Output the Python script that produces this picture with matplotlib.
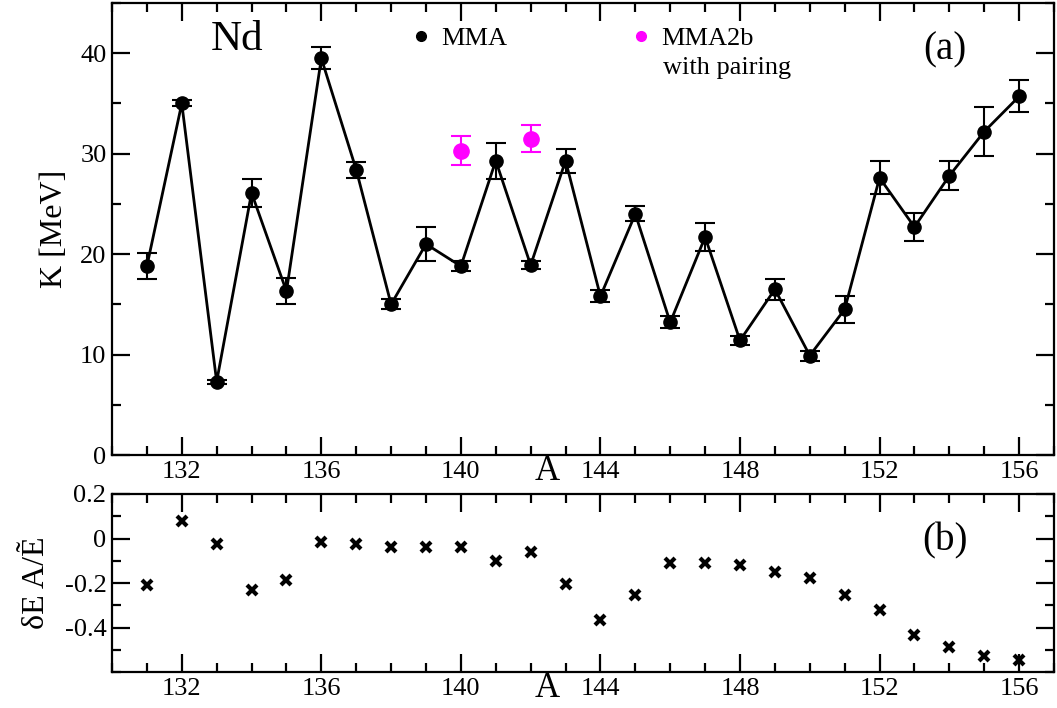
import matplotlib
matplotlib.use("Agg")
import matplotlib.pyplot as plt
from matplotlib.lines import Line2D
from matplotlib.ticker import MultipleLocator, FixedLocator, FuncFormatter

plt.rcParams['font.family'] = ['Liberation Serif', 'DejaVu Serif']
plt.rcParams['mathtext.fontset'] = 'stix'

# mass numbers
A = list(range(131, 157))

# panel (a): K [MeV] from MMA, with error bars
K = [18.8, 35.0, 7.3, 26.1, 16.3, 39.5, 28.4, 15.0, 21.0, 18.8, 29.3, 18.9, 29.3,
     15.8, 24.0, 13.2, 21.7, 11.4, 16.5, 9.9, 14.5, 27.6, 22.7, 27.8, 32.2, 35.7]
K_err = [1.3, 0.3, 0.2, 1.4, 1.3, 1.1, 0.8, 0.5, 1.7, 0.5, 1.8, 0.4, 1.2,
         0.6, 0.75, 0.6, 1.35, 0.45, 1.05, 0.5, 1.35, 1.65, 1.35, 1.45, 2.45, 1.6]

# MMA2b with pairing
A_pair = [140, 142]
K_pair = [30.3, 31.5]
K_pair_err = [1.45, 1.35]

# panel (b): deltaE A / E~
dE = [-0.208, 0.077, -0.024, -0.23, -0.186, -0.015, -0.025, -0.04, -0.04, -0.038,
      -0.10, -0.06, -0.204, -0.367, -0.253, -0.111, -0.111, -0.119, -0.149, -0.178,
      -0.253, -0.322, -0.434, -0.487, -0.53, -0.546]

fig = plt.figure(figsize=(10.57, 7.08), dpi=100)
ax1 = fig.add_axes([112/1057, 1-455/708, 942/1057, 452/708])
ax2 = fig.add_axes([112/1057, 1-672/708, 942/1057, 178/708])

tick_fs = 19

def style_axis(ax):
    for s in ax.spines.values():
        s.set_linewidth(1.6)
    ax.tick_params(which='both', direction='in', top=True, right=True, width=1.6,
                   labelsize=tick_fs, pad=4)
    ax.tick_params(which='major', length=13)
    ax.tick_params(which='minor', length=6.5)
    ax.set_xlim(130, 157)
    ax.xaxis.set_major_locator(FixedLocator([132, 136, 140, 144, 148, 152, 156]))
    ax.xaxis.set_minor_locator(MultipleLocator(1))

# ---- panel (a)
ax1.plot(A, K, color='black', lw=2, zorder=2)
ax1.errorbar(A, K, yerr=K_err, fmt='o', color='black', ms=9.5, elinewidth=1.5,
             capsize=7, capthick=1.5, zorder=3)
ax1.errorbar(A_pair, K_pair, yerr=K_pair_err, fmt='o', color='#ff00ff', ms=11,
             elinewidth=1.5, capsize=7, capthick=1.5, zorder=3)
style_axis(ax1)
ax1.set_ylim(0, 45)
ax1.yaxis.set_major_locator(MultipleLocator(10))
ax1.yaxis.set_minor_locator(MultipleLocator(5))
ax1.set_ylabel('K [MeV]', fontsize=23, labelpad=8)
ax1.text(0.133, 0.918, 'Nd', transform=ax1.transAxes, fontsize=31,
         ha='center', va='center')
ax1.text(0.884, 0.897, '(a)', transform=ax1.transAxes, fontsize=28,
         ha='center', va='center')
ax1.text(0.462, -0.037, 'A', transform=ax1.transAxes, fontsize=25,
         ha='center', va='center')

handles = [Line2D([], [], ls='none', marker='o', color='black', ms=7),
           Line2D([], [], ls='none', marker='o', color='#ff00ff', ms=7)]
leg = ax1.legend(handles, ['MMA', 'MMA2b'], ncol=2, loc='center left',
                 bbox_to_anchor=(0.321, 0.922), frameon=False, fontsize=19,
                 handlelength=0.5, handletextpad=0.5, columnspacing=4.85,
                 borderpad=0, borderaxespad=0)
ax1.text(0.585, 0.856, 'with pairing', transform=ax1.transAxes, fontsize=19,
         ha='left', va='center')

# ---- panel (b)
ax2.plot(A, dE, ls='none', marker='x', color='black', ms=7, mew=3)
style_axis(ax2)
ax2.set_ylim(-0.6, 0.2)
ax2.yaxis.set_major_locator(FixedLocator([-0.4, -0.2, 0, 0.2]))
ax2.yaxis.set_minor_locator(MultipleLocator(0.1))
ax2.yaxis.set_major_formatter(FuncFormatter(lambda v, p: '%g' % round(v, 3)))
ax2.set_ylabel('δE A/Ẽ', fontsize=23, labelpad=10)
ax2.text(0.884, 0.735, '(b)', transform=ax2.transAxes, fontsize=28,
         ha='center', va='center')
ax2.text(0.462, -0.09, 'A', transform=ax2.transAxes, fontsize=25,
         ha='center', va='center')

fig.savefig('out.png', dpi=100)
